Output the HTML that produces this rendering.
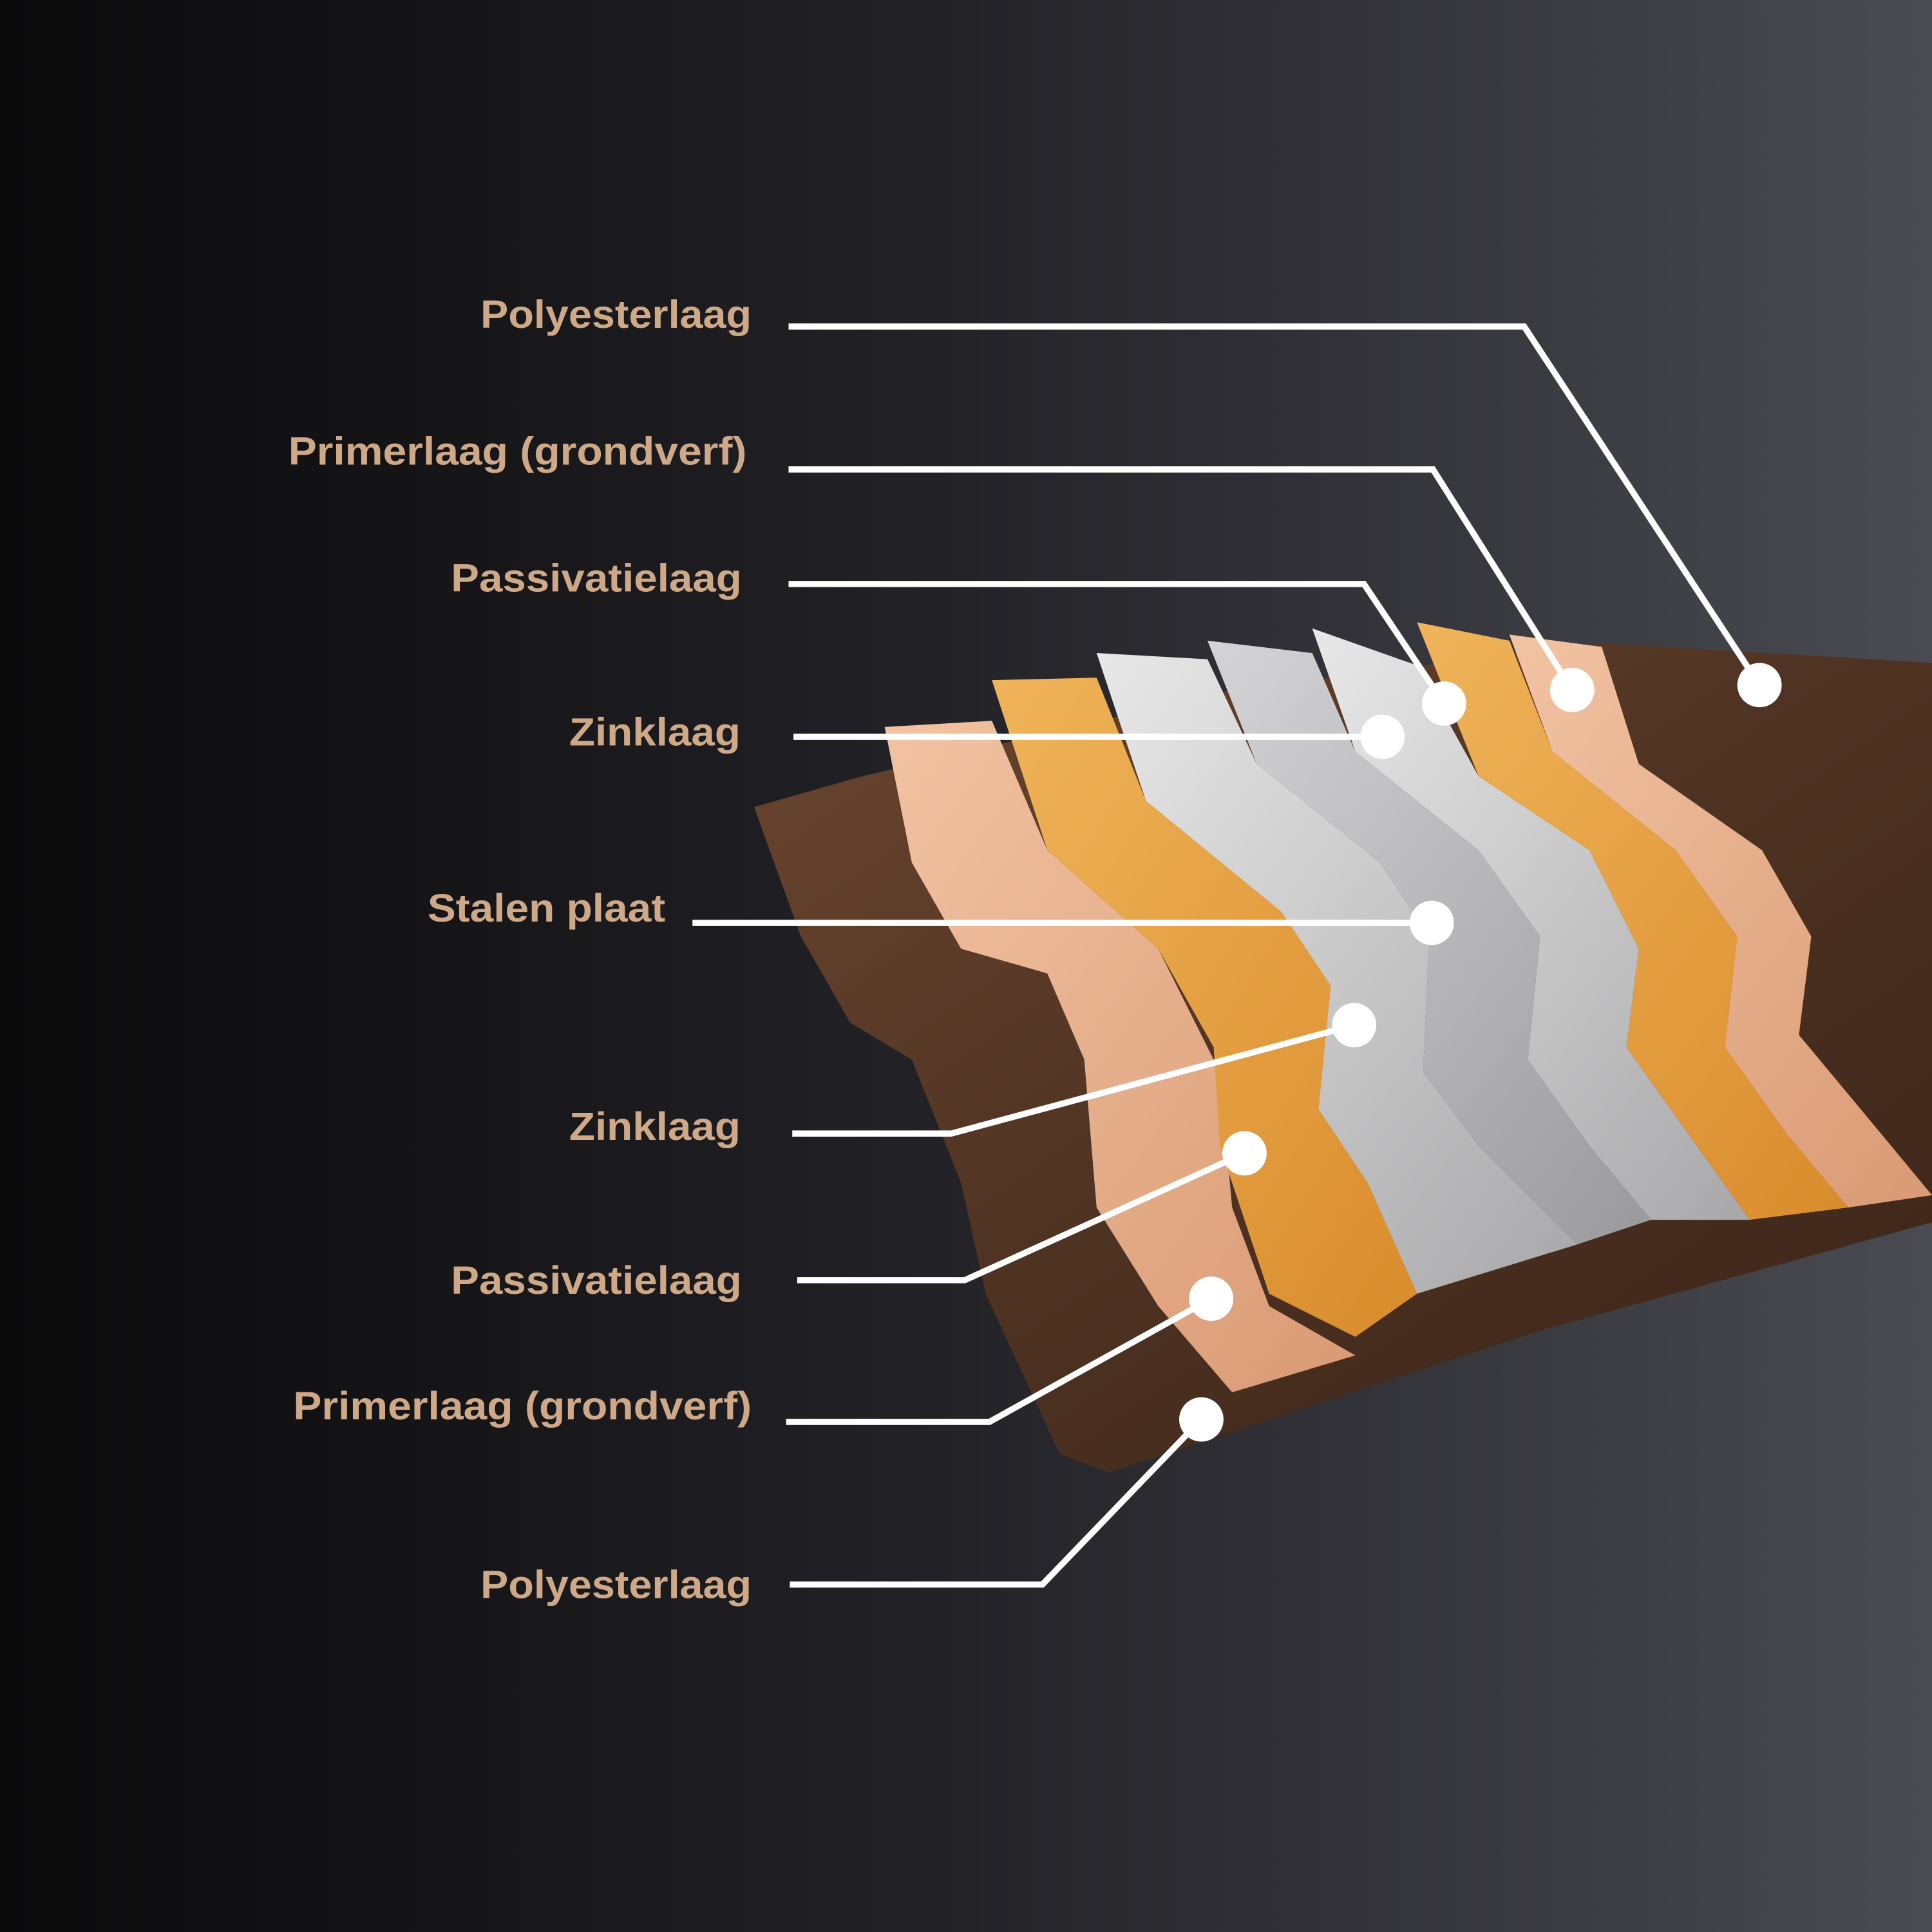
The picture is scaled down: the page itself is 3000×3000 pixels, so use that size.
<!DOCTYPE html>
<html><head><meta charset="utf-8"><style>
html,body{margin:0;padding:0;width:3000px;height:3000px;overflow:hidden;background:#1a1a1d}
svg{display:block}
</style></head><body>
<svg width="3000" height="3000" viewBox="0 0 1568 1568" xmlns="http://www.w3.org/2000/svg">
<defs>
<linearGradient id="bg" x1="0" y1="0" x2="1" y2="0">
<stop offset="0" stop-color="#0a0a0b"/><stop offset="0.5" stop-color="#232328"/><stop offset="1" stop-color="#4a4a52"/>
</linearGradient>
<linearGradient id="wood" x1="0" y1="0" x2="1" y2="1">
<stop offset="0" stop-color="#6b4630"/><stop offset="0.5" stop-color="#4e3222"/><stop offset="1" stop-color="#3a2418"/>
</linearGradient>
<linearGradient id="peach" x1="0" y1="0" x2="1" y2="1"><stop offset="0" stop-color="#f2c3a3"/><stop offset="1" stop-color="#d99a74"/></linearGradient>
<linearGradient id="orange" x1="0" y1="0" x2="1" y2="1"><stop offset="0" stop-color="#f0b45a"/><stop offset="1" stop-color="#d98c2c"/></linearGradient>
<linearGradient id="grey" x1="0" y1="0" x2="1" y2="1"><stop offset="0" stop-color="#e8e8e8"/><stop offset="1" stop-color="#a8a8aa"/></linearGradient>
<linearGradient id="grey2" x1="0" y1="0" x2="1" y2="1"><stop offset="0" stop-color="#d4d4d6"/><stop offset="1" stop-color="#9a9a9c"/></linearGradient>
</defs>
<rect width="1568" height="1568" fill="url(#bg)"/>
<polygon fill="url(#wood)" points="612,655 700,630 1000,560 1300,522 1568,538 1568,992 1250,1080 900,1195 860,1180 800,1050 780,960 740,860 690,830 650,760"/>
<polygon fill="url(#peach)" points="718,590 805,585 850,690 940,770 990,870 1000,980 1030,1060 1100,1100 1000,1130 940,1060 890,980 880,860 850,790 780,770 740,700"/>
<polygon fill="url(#orange)" points="805,552 890,550 930,650 1040,740 1080,800 1070,900 1110,960 1150,1050 1100,1085 1030,1050 990,930 985,850 940,770 850,690"/>
<polygon fill="url(#grey)" points="890,530 980,535 1020,620 1120,700 1160,760 1155,870 1200,930 1280,1010 1150,1050 1110,960 1070,900 1080,800 1040,740 930,650"/>
<polygon fill="url(#grey2)" points="980,520 1065,530 1100,610 1200,690 1250,760 1240,860 1290,930 1340,990 1280,1010 1200,930 1155,870 1160,760 1120,700 1020,620"/>
<polygon fill="url(#grey)" points="1065,510 1150,540 1200,630 1290,690 1330,770 1320,850 1370,920 1420,990 1340,990 1290,930 1240,860 1250,760 1200,690 1100,610"/>
<polygon fill="url(#orange)" points="1150,505 1225,520 1260,610 1360,690 1410,760 1400,850 1450,920 1500,980 1420,990 1370,920 1320,850 1330,770 1290,690 1200,630"/>
<polygon fill="url(#peach)" points="1225,515 1300,525 1330,620 1430,690 1470,760 1460,840 1510,900 1568,970 1500,980 1450,920 1400,850 1410,760 1360,690 1260,610"/>
<g fill="none" stroke="#fff" stroke-width="5">
<polyline points="640,265 1237,265 1428,556"/>
<polyline points="640,381 1163,381 1276,560"/>
<polyline points="640,474 1107,474 1172,571"/>
<polyline points="644,598 1122,598"/>
<polyline points="562,749 1162,749"/>
<polyline points="643,920 772,920 1099,832"/>
<polyline points="647,1039 783,1039 1010,936"/>
<polyline points="638,1154 803,1154 983,1054"/>
<polyline points="641,1286 846,1286 975,1152"/>
</g>
<g fill="#fff">
<circle cx="1428" cy="556" r="18"/><circle cx="1276" cy="560" r="18"/><circle cx="1172" cy="571" r="18"/>
<circle cx="1122" cy="598" r="18"/><circle cx="1162" cy="749" r="18"/><circle cx="1099" cy="832" r="18"/>
<circle cx="1010" cy="936" r="18"/><circle cx="983" cy="1054" r="18"/><circle cx="975" cy="1152" r="18"/>
</g>
<g font-family="Liberation Sans, sans-serif" font-weight="bold" font-size="32" fill="#cfa987" lengthAdjust="spacingAndGlyphs">
<text x="390" y="266" textLength="220" lengthAdjust="spacingAndGlyphs">Polyesterlaag</text>
<text x="234" y="377" textLength="372" lengthAdjust="spacingAndGlyphs">Primerlaag (grondverf)</text>
<text x="366" y="480" textLength="236" lengthAdjust="spacingAndGlyphs">Passivatielaag</text>
<text x="462" y="605" textLength="139" lengthAdjust="spacingAndGlyphs">Zinklaag</text>
<text x="347" y="748" textLength="193" lengthAdjust="spacingAndGlyphs">Stalen plaat</text>
<text x="462" y="925" textLength="139" lengthAdjust="spacingAndGlyphs">Zinklaag</text>
<text x="366" y="1050" textLength="236" lengthAdjust="spacingAndGlyphs">Passivatielaag</text>
<text x="238" y="1152" textLength="372" lengthAdjust="spacingAndGlyphs">Primerlaag (grondverf)</text>
<text x="390" y="1297" textLength="220" lengthAdjust="spacingAndGlyphs">Polyesterlaag</text>
</g>
</svg>
</body></html>
